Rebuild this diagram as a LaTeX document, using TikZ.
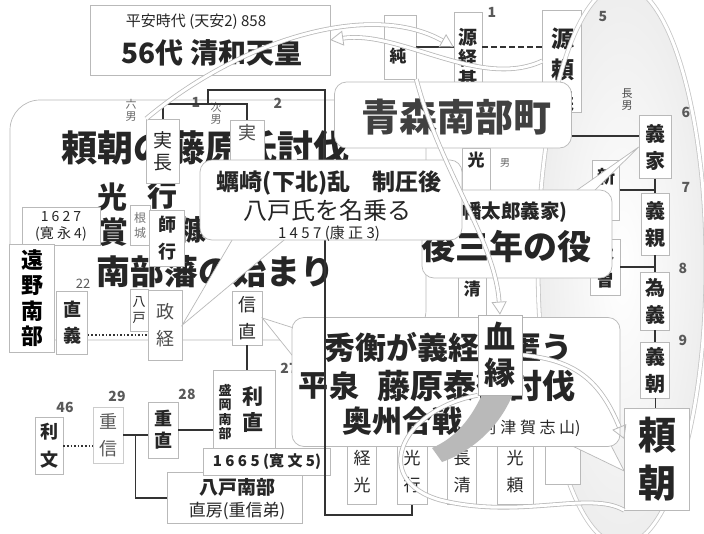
\documentclass[tikz,border=0pt]{standalone}
\usepackage{fontspec}
\setmainfont{Noto Sans CJK JP}
\usetikzlibrary{arrows.meta,calc}
\newcommand{\fs}[2]{\fontsize{#1}{#2}\selectfont}
\pgfdeclarelayer{front}
\pgfsetlayers{main,front}
\begin{document}
\begin{tikzpicture}[x=1pt,y=-1pt,
  vbox/.style={draw=gray!55, fill=white, line width=0.6pt, inner sep=0pt, align=center, text=black!85},
  tx/.style={inner sep=0pt, text=black!85, align=center},
  num/.style={inner sep=0pt, text=black!65, font=\fs{14}{14}\bfseries},
  tline/.style={draw=black!80, line width=1.6pt},
  call/.style={draw=gray!55, fill=white, line width=0.7pt, rounded corners=12pt},
  tail/.style={draw=gray!55, fill=white, line width=0.7pt},
  hollow/.style={draw=gray!55, double=white, double distance=3pt, line width=0.8pt},
  otip/.style={-{Triangle[open,length=13pt,width=15pt]}},
]
\useasboundingbox (0,0) rectangle (704,533);
\clip (0,0) rectangle (704,533);
\fill[white] (0,0) rectangle (704,533);

% ellipse shading
\shade[inner color=white, outer color=gray!14] (622,265) ellipse [x radius=84pt, y radius=280pt];

% Minamoto Yoriyoshi
\node[vbox, minimum width=39pt, minimum height=102pt] (yoriyoshi) at (562,61) {};
\node[tx, font=\fs{23}{31}\bfseries] (yoriyoshiT) at (563,70) {源\\頼\\義};
\node[num] (n5) at (603,17) {5};
\draw[hollow, draw=gray!45] (622,265) ellipse [x radius=84pt, y radius=280pt];

% top box
\node[vbox, minimum width=240pt, minimum height=70pt] (top) at (210,40) {};
\node[tx, font=\fs{15}{15}] (topA) at (196,22) {平安時代 (天安2) 858};
\node[tx, font=\fs{28}{28}\bfseries] (topB) at (212,53) {56代 清和天皇};

% jun / tsunemoto
\node[vbox, minimum width=32pt, minimum height=64pt] (jun) at (400,47) {};
\node[tx, font=\fs{17}{17}\bfseries] (junT) at (398,56) {純};
\node[vbox, minimum width=28pt, minimum height=70pt] (tsunemoto) at (468,47) {};
\node[tx, font=\fs{19}{21}\bfseries] (tsunemotoT) at (468,58) {源\\経\\基};
\node[num] (n1) at (492,12) {1};
\draw[tline, line width=1.3pt] (jun.east) -- (tsunemoto.west);
\draw[tline, line width=1.3pt, dash pattern=on 6pt off 3pt] (tsunemoto.east) -- (tsunemoto.east -| yoriyoshi.west);

% big background panel
\node[call, rounded corners=30pt, minimum width=416pt, minimum height=240pt] (bg) at (218,220) {};
\node[tx, font=\fs{11}{12}, text=black!60] (rokunan) at (131,110) {六\\男};
\node[num] (n1b) at (196,102) {1};
\node[tx, font=\fs{11}{12}, text=black!60] (jinan) at (216,113) {次\\男};
\node[num] (n2) at (278,103) {2};
\node[num, font=\fs{13}{13}] (n22) at (83,284) {22};
\node[tx, font=\fs{36}{36}\bfseries] (title) at (205,148) {頼朝の藤原氏討伐};
\node[tx, font=\fs{30}{30}\bfseries] (hikari) at (112,197) {光};
\node[tx, font=\fs{30}{30}\bfseries] (iku) at (162,195) {行};
\node[tx, font=\fs{30}{30}\bfseries] (sho) at (113,232) {賞};
\node[tx, font=\fs{28}{28}\bfseries] (nuka) at (192,230) {糠};
\node[tx, font=\fs{34}{34}\bfseries] (nanbuhan) at (215,272) {南部藩の始まり};

% right chain
\node[tx, font=\fs{11}{12}, text=black!70] (chonan) at (627,100) {長\\男};
\node[num] (n6) at (686,112) {6};
\node[vbox, minimum width=32pt, minimum height=63pt, font=\fs{20}{27}\bfseries] (yoshiie) at (655,147) {義\\家};
\node[num] (n7) at (686,187) {7};
\node[vbox, minimum width=28pt, minimum height=62pt, font=\fs{20}{27}\bfseries] (yoshichika) at (655,224) {義\\親};
\node[num] (n8) at (683,268) {8};
\node[vbox, minimum width=29pt, minimum height=58pt, font=\fs{20}{27}\bfseries] (tameyoshi) at (655,301) {為\\義};
\node[num] (n9) at (683,340) {9};
\node[vbox, minimum width=29pt, minimum height=56pt, font=\fs{20}{27}\bfseries] (yoshitomo) at (655,370) {義\\朝};
\node[num] (n10) at (677,416) {10};
\node[vbox, minimum width=65pt, minimum height=102pt, font=\fs{38}{48}\bfseries] (yoritomo) at (657,459) {頼\\朝};
\node[vbox, minimum width=27pt, minimum height=60pt, font=\fs{18}{26}\bfseries] (shin) at (606,190) {新\\\phantom{新}};
\node[vbox, minimum width=30pt, minimum height=56pt, font=\fs{18}{26}\bfseries] (kiso) at (605,267) {木\\曽};
\draw[tline] (yoshiie.south) -- (yoshichika.north);
\draw[tline] (shin.east) -- (shin.east -| yoshichika.north);
\draw[tline] (yoshichika.south) -- (tameyoshi.north);
\draw[tline] (kiso.east) -- (kiso.east -| tameyoshi.north);
\draw[tline] (tameyoshi.south) -- (yoshitomo.north);
\draw[tline, line width=1pt] (yoshitomo.south) -- (yoshitomo.south |- yoritomo.north);

% middle partial boxes
\node[vbox, minimum width=28pt, minimum height=44pt, font=\fs{17}{20}\bfseries] (mitsuM) at (476,170) {光\\\phantom{光}};
\node[tx, font=\fs{10}{11}, text=black!60] (otoko) at (505,163) {男};
\node[vbox, minimum width=28pt, minimum height=50pt, font=\fs{17}{22}\bfseries] (kiyoM) at (472,300) {清\\\phantom{清}};

% left boxes
\node[vbox, minimum width=78pt, minimum height=38pt, font=\fs{14}{17}] (y1627) at (61,226) {1 6 2 7\\(寛 永 4)};
\node[vbox, minimum width=45pt, minimum height=108pt, font=\fs{22}{25.5}\bfseries, text=black] (tono) at (32,298) {遠\\野\\南\\部};
\node[vbox, minimum width=31pt, minimum height=63pt, font=\fs{18}{26}\bfseries] (naoyoshi) at (72,323) {直\\義};
\node[vbox, minimum width=20pt, minimum height=40pt, font=\fs{12}{15}, text=black!55] (konjo) at (140,225) {根\\城};
\node[vbox, minimum width=35pt, minimum height=56pt, font=\fs{18}{27}\bfseries] (moroyuki) at (167,238) {師\\行};
\node[vbox, minimum width=18pt, minimum height=42pt, font=\fs{13}{16}] (hachinohe) at (139,310) {八\\戸};
\node[vbox, minimum width=34pt, minimum height=70pt, font=\fs{18}{27}, text=black!70] (masatsune) at (165,325) {政\\経};
\node[vbox, minimum width=33pt, minimum height=64pt, font=\fs{19}{22}] (sanecho) at (163,151) {実\\長};
\node[vbox, minimum width=34pt, minimum height=52pt, font=\fs{18}{26}, text=black!70] (sane2) at (247,146) {実\\\phantom{実}};
\node[vbox, minimum width=30pt, minimum height=54pt, font=\fs{18}{27}] (nobunao) at (247,318) {信\\直};
\draw[tline, dotted, line width=1.5pt] ([yshift=-12pt]naoyoshi.east) -- ([yshift=-12pt]naoyoshi.east -| masatsune.west);
\draw[tline] (sanecho.north) -- ++(0,-15) -| (sane2.north);
\coordinate (j1) at (208,104);

% lower left family
\node[vbox, minimum width=62pt, minimum height=84pt] (toshinao) at (244,412) {};
\node[tx, font=\fs{13}{14.5}\bfseries] (moriokaT) at (225,412) {盛\\岡\\南\\部};
\node[tx, font=\fs{21}{26}\bfseries] (toshinaoT) at (253,410) {利\\直};
\node[num] (n27) at (289,368) {27};
\node[vbox, minimum width=30pt, minimum height=56pt, font=\fs{18}{22}\bfseries] (shigenao) at (163,430) {重\\直};
\node[num] (n28) at (187,394) {28};
\node[vbox, draw=gray!40, minimum width=30pt, minimum height=56pt, font=\fs{18}{27}, text=black!65] (shigenobu) at (108,435) {重\\信};
\node[num] (n29) at (117,396) {29};
\node[vbox, minimum width=28pt, minimum height=57pt, font=\fs{18}{28}\bfseries] (toshifumi) at (49,446) {利\\文};
\node[num] (n46) at (65,407) {46};
\draw[tline, dotted, line width=1.5pt] (toshifumi.east) -- (toshifumi.east -| shigenobu.west);
\draw[tline] (shigenobu.east) -- (shigenobu.east -| shigenao.west);
\coordinate (sgw) at (shigenobu.east -| shigenao.west);
\coordinate (br) at ($(shigenobu.east)!0.5!(sgw)$);
\node[vbox, minimum width=135pt, minimum height=51pt] (hnanbu) at (235,498) {};
\node[tx, font=\fs{19}{19}\bfseries] (hnanbuA) at (237,487) {八戸南部};
\node[tx, font=\fs{17}{17}] (hnanbuB) at (237,511) {直房(重信弟)};
\draw[tline] (br) |- (hnanbu.west);
\draw[tline] (shigenao.east) -- (shigenao.east -| toshinao.west);
\draw[tline] (nobunao.south) -- (nobunao.south |- toshinao.north);
\node[vbox, minimum width=127pt, minimum height=27pt, font=\fs{15}{15}\bfseries] (y1665) at (267,462) {1 6 6 5 (寛 文 5)};

% bottom row
\node[vbox, minimum width=29pt, minimum height=65pt, font=\fs{17}{27}] (tsunemitsu) at (362,472) {経\\光};
\node[vbox, minimum width=30pt, minimum height=65pt, font=\fs{17}{27}] (mitsuyuki) at (412,472) {光\\行};
\node[vbox, minimum width=29pt, minimum height=65pt, font=\fs{17}{27}] (nagakiyo) at (462,472) {長\\清};
\node[vbox, minimum width=36pt, minimum height=65pt, font=\fs{17}{27}] (mitsuyori) at (515,472) {光\\頼};
\node[vbox, minimum width=35pt, minimum height=40pt] (partial) at (563,464) {};

% Hidehira callout
\filldraw[tail] (300,330) -- (nobunao.east) -- (300,365) -- cycle;
\filldraw[tail] (585,395) -- ([yshift=-12pt]yoritomo.west) -- (560,440) -- cycle;
\node[call, minimum width=328pt, minimum height=129pt] (hidehira) at (456,382) {};
\node[tx, font=\fs{31}{31}\bfseries] (hideA) at (448,347) {秀衡が義経を匿う};
\node[tx, font=\fs{30}{30}\bfseries] (hideB1) at (313,386) {平};
\node[tx, font=\fs{30}{30}\bfseries] (hideB2) at (344,386) {泉};
\node[tx, font=\fs{33}{33}\bfseries] (hideB3) at (476,386) {藤原泰衡討伐};
\node[tx, font=\fs{30}{30}\bfseries] (hideC) at (402,421) {奥州合戦};
\node[tx, font=\fs{16}{16}] (hideD) at (528,428) {(阿 津 賀 志 山)};

% long family line
\draw[tline] (j1) |- (325,90) -- (325,515) -| (mitsuyuki.south);

% Go-sannen callout
\filldraw[tail] (570,195) -- (yoshiie.west) -- (590,195) -- cycle;
\node[call, minimum width=190pt, minimum height=88pt] (gosannen) at (517,234) {};
\node[tx, font=\fs{19.5}{19.5}\bfseries] (gosA) at (501,212) {(八幡太郎義家)};
\node[tx, font=\fs{34}{34}\bfseries] (gosB) at (506,247) {後三年の役};

% Kakizaki callout
\filldraw[tail] (235,235) -- (masatsune.east) -- (290,235) -- cycle;
\node[call, minimum width=262pt, minimum height=80pt] (kakizaki) at (331,200) {};
\node[tx, font=\fs{23}{23}\bfseries] (kakA) at (329,183) {蠣崎(下北)乱\hspace{22pt}制圧後};
\node[tx, font=\fs{24}{24}] (kakB) at (327,210) {八戸氏を名乗る};
\node[tx, font=\fs{15}{15}] (kakC) at (329,234) {1 4 5 7 (康 正 3)};

% Aomori callout
\node[call, minimum width=237pt, minimum height=66pt] (aomori) at (453,115) {};
\node[tx, font=\fs{38}{38}\bfseries, text=black!75] (aomoriT) at (456,117) {青森南部町};
\coordinate (yA) at ([yshift=11pt]yoshiie.west);
\draw[tline] (yA) -- (yA -| aomori.east);

% blood-relation box on front layer
\begin{pgfonlayer}{front}
\node[vbox, draw=gray!60, minimum width=44pt, minimum height=80pt, font=\fs{31}{36}\bfseries] (ketsuen) at (500,355) {血\\縁};
\end{pgfonlayer}

% arrows
\draw[hollow, otip] (sanecho.north west) .. controls (240,40) and (370,0) .. (tsunemoto.west);
\draw[hollow, otip] (yoriyoshi.west) .. controls (480,90) and (400,30) .. (top.east);
\draw[hollow, otip] (jun.south east) .. controls (440,170) and (495,240) .. (ketsuen.north);
\draw[hollow, otip] (ketsuen.east) .. controls (575,360) and (600,380) .. ([yshift=20pt]yoritomo.west);
\draw[hollow] (ketsuen.south west) .. controls (400,410) and (370,480) .. (440,500) .. controls (520,520) and (590,490) .. (yoritomo.south west);
\fill[gray!55] ([xshift=4pt]ketsuen.south west) .. controls (470,420) and (455,438) .. (432,448) -- (442,462) .. controls (475,450) and (500,425) .. ([xshift=-10pt]ketsuen.south east) -- cycle;
\end{tikzpicture}
\end{document}
